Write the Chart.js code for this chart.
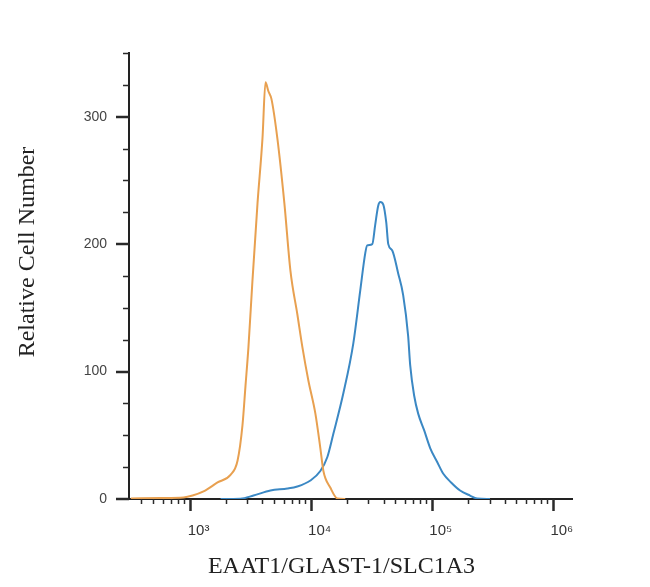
<!DOCTYPE html>
<html><head><meta charset="utf-8">
<script src="https://cdn.jsdelivr.net/npm/chart.js@4.4.1/dist/chart.umd.min.js"></script>
<style>html,body{margin:0;padding:0;background:#fff}#wrap{width:650px;height:587px;position:relative}</style>
</head><body><div id="wrap"><canvas id="c"></canvas></div>
<script>
// Control histogram (orange)
const orangeX = [327, 577, 893, 1059, 1304, 1702, 2178, 2489, 2735, 2897, 3062, 3304, 3639, 4000, 4236, 4477, 4742, 5309, 6067, 6808, 7762, 8551, 9572, 10940, 12020, 12740, 14520, 16600, 19320];
const orangeY = [0.4, 0.8, 1.2, 2.7, 5.9, 13, 19, 30, 58, 89, 119, 171, 232, 283, 327, 320, 314, 283, 232, 179, 145, 119, 93, 67, 40, 22, 9, 0.4, 0];
// EAAT1/GLAST-1/SLC1A3 stained histogram (blue)
const blueX = [1803, 2630, 3373, 4656, 6427, 7762, 9954, 12020, 13740, 15380, 18620, 22490, 25700, 28250, 29310, 32260, 34100, 36100, 37580, 39800, 42100, 43750, 47200, 52840, 58070, 63830, 66370, 71610, 77270, 86500, 97050, 110900, 124200, 144500, 171400, 207300, 236600, 302700];
const blueY = [0, 0.2, 2.7, 6.7, 8.2, 9.8, 14.5, 22, 33, 51, 83, 122, 164, 193, 199, 200, 215, 230, 233, 231, 217, 200, 195, 177, 160, 128, 105, 81, 67, 54, 40, 29, 20, 13, 6.7, 2.7, 0.4, 0];

const xMajorTicks = [1000, 10000, 100000, 1000000];
const xTickLabels = ['10³', '10⁴', '10⁵', '10⁶'];
const yMajorTicks = [0, 100, 200, 300];
const yTickStep = 25;
const xMin = 316, xMax = 1440000, yMin = 0, yMax = 350;

const toPoints = (xs, ys) => xs.map((x, i) => ({x: x, y: ys[i]}));

// minor tick values (log decades 2..9, and every 25 on y)
const xMinorTicks = [];
for (let d = 100; d <= 1000000; d *= 10) for (let m = 2; m <= 9; m++) { const v = m * d; if (v >= xMin && v <= xMax) xMinorTicks.push(v); }
const yMinorTicks = [];
for (let v = yMin; v <= yMax; v += yTickStep) if (yMajorTicks.indexOf(v) < 0) yMinorTicks.push(v);

const tickMarks = {
  id: 'tickMarks',
  afterDraw(chart) {
    const ctx = chart.ctx, xs = chart.scales.x, ys = chart.scales.y;
    const ca = chart.chartArea;
    ctx.save();
    ctx.strokeStyle = '#2a2a2a';
    ctx.lineCap = 'butt';
    const draw = (x1, y1, x2, y2, w) => { ctx.lineWidth = w; ctx.beginPath(); ctx.moveTo(x1, y1); ctx.lineTo(x2, y2); ctx.stroke(); };
    xMajorTicks.forEach(v => { const p = Math.round(xs.getPixelForValue(v)) + 0.5; draw(p, ca.bottom, p, ca.bottom + 12, 2.5); });
    xMinorTicks.forEach(v => { const p = Math.round(xs.getPixelForValue(v)) + 0.5; draw(p, ca.bottom, p, ca.bottom + 5, 1.5); });
    yMajorTicks.forEach(v => { const p = Math.round(ys.getPixelForValue(v)); draw(ca.left - 13, p, ca.left, p, 2.5); });
    yMinorTicks.forEach(v => { const p = Math.round(ys.getPixelForValue(v)) + 0.5; draw(ca.left - 6, p, ca.left, p, 1.5); });
    ctx.restore();
  }
};

new Chart(document.getElementById('c'), {
  type: 'scatter',
  data: {
    datasets: [
      { label: 'Control', data: toPoints(orangeX, orangeY), showLine: true, borderColor: '#E8A050', borderWidth: 2, pointRadius: 0, cubicInterpolationMode: 'monotone', fill: false },
      { label: 'EAAT1', data: toPoints(blueX, blueY), showLine: true, borderColor: '#3B88C4', borderWidth: 2, pointRadius: 0, cubicInterpolationMode: 'monotone', fill: false }
    ]
  },
  options: {
    responsive: true,
    maintainAspectRatio: false,
    animation: false,
    layout: { padding: { left: 0, right: 78, top: 53, bottom: 0 } },
    plugins: { legend: { display: false }, tooltip: { enabled: false } },
    scales: {
      x: {
        type: 'logarithmic', min: xMin, max: xMax,
        afterFit: s => { s.height = 88; },
        afterBuildTicks: s => { s.ticks = xMajorTicks.map(v => ({ value: v })); },
        grid: { display: true, drawOnChartArea: false, drawTicks: false },
        border: { display: true, color: '#222', width: 2 },
        ticks: {
          autoSkip: false, maxRotation: 0, padding: 23, labelOffset: 9,
          color: '#333', font: { family: 'Liberation Sans', size: 15 },
          callback: (v) => { const i = xMajorTicks.indexOf(v); return i >= 0 ? xTickLabels[i] : ''; }
        },
        title: { display: true, text: 'EAAT1/GLAST-1/SLC1A3   ', color: '#222', font: { family: 'Liberation Serif', size: 24 }, padding: { top: 0, bottom: 6 } }
      },
      y: {
        min: yMin, max: yMax,
        afterFit: s => { s.width = 129; },
        afterBuildTicks: s => { s.ticks = yMajorTicks.map(v => ({ value: v })); },
        grid: { display: true, drawOnChartArea: false, drawTicks: false },
        border: { display: true, color: '#222', width: 2 },
        ticks: { padding: 22, color: '#444', font: { family: 'Liberation Sans', size: 14 } },
        title: { display: true, text: '        Relative Cell Number', color: '#222', font: { family: 'Liberation Serif', size: 24 }, padding: { top: 13, bottom: 0 } }
      }
    }
  },
  plugins: [tickMarks]
});
</script>
</body></html>
